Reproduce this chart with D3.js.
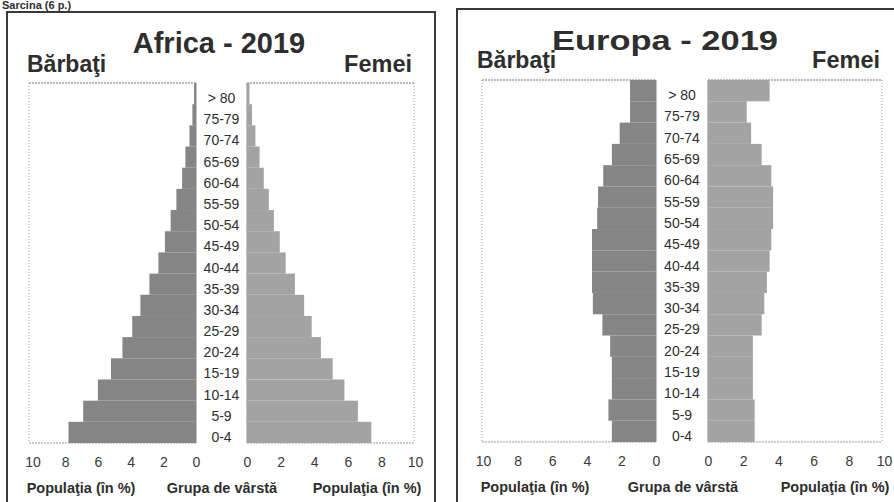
<!DOCTYPE html>
<html>
<head>
<meta charset="utf-8">
<script src="https://cdn.jsdelivr.net/npm/d3@7"></script>
<style>
  html, body { margin: 0; padding: 0; background: #fff; }
  svg { display: block; font-family: "Liberation Sans", Arial, sans-serif; }
</style>
</head>
<body>
<svg id="chart" width="894" height="502"></svg>
<script>
// ---- data ----
const ageGroups = ["0-4","5-9","10-14","15-19","20-24","25-29","30-34","35-39","40-44","45-49","50-54","55-59","60-64","65-69","70-74","75-79","> 80"];
const africaMale   = [7.8, 6.9, 6.0, 5.2, 4.5, 3.9, 3.4, 2.85, 2.3, 1.9, 1.55, 1.2, 0.85, 0.65, 0.4, 0.22, 0.12];
const africaFemale = [7.4, 6.6, 5.8, 5.1, 4.4, 3.85, 3.4, 2.85, 2.3, 1.95, 1.6, 1.3, 1.0, 0.75, 0.5, 0.3, 0.15];
const europeMale   = [2.55, 2.75, 2.55, 2.55, 2.65, 3.1, 3.65, 3.7, 3.7, 3.7, 3.4, 3.35, 3.05, 2.55, 2.1, 1.5, 1.5];
const europeFemale = [2.65, 2.65, 2.55, 2.55, 2.55, 3.05, 3.2, 3.35, 3.5, 3.6, 3.7, 3.7, 3.6, 3.05, 2.45, 2.2, 3.5];
const xTicks = [0, 2, 4, 6, 8, 10];
const panelTitles = ["Africa - 2019", "Europa - 2019"];
const sexLabels = ["Bărbaţi", "Femei"];
const axisTitles = ["Populaţia (în %)", "Grupa de vârstă", "Populaţia (în %)"];
const taskLabel = "Sarcina (6 p.)";

// ---- layout ----
const panels = [
  { title: panelTitles[0], male: africaMale, female: africaFemale,
    frame: {x: 7, y: 12, w: 428, h: 520},
    titleX: 219, titleY: 53, titleSize: 29, titleLen: null,
    sexY: 72, barbX: 27, femX: 412,
    top: 83, bottom: 443,
    m0: 196, m10: 32.5, mEdge: 29,
    f0: 247, f10: 415, fEdge: 414,
    tickY: 443, titleRowY: 493,
    axisTitleX: [81, 222, 367] },
  { title: panelTitles[1], male: europeMale, female: europeFemale,
    frame: {x: 457, y: 9, w: 470, h: 520},
    titleX: 665, titleY: 50, titleSize: 27, titleLen: 226,
    sexY: 68, barbX: 477, femX: 880,
    top: 80, bottom: 442,
    m0: 656, m10: 483, mEdge: 482,
    f0: 708, f10: 884, fEdge: 882,
    tickY: 442, titleRowY: 492,
    axisTitleX: [535, 683, 835] }
];

const maleColor = "#858585";
const femaleColor = "#a3a3a3";
const textColor = "#2e2e2e";

const svg = d3.select("#chart");

// task header (top-left)
svg.append("text").attr("x", 2).attr("y", 9)
  .attr("font-size", 11).attr("font-weight", "bold").attr("fill", textColor)
  .text(taskLabel);

panels.forEach(p => {
  const g = svg.append("g");

  // outer frame
  g.append("rect")
    .attr("x", p.frame.x).attr("y", p.frame.y)
    .attr("width", p.frame.w).attr("height", p.frame.h)
    .attr("fill", "none").attr("stroke", "#3a3a3a").attr("stroke-width", 2);

  // titles
  const t = g.append("text").attr("x", p.titleX).attr("y", p.titleY)
    .attr("text-anchor", "middle").attr("font-size", p.titleSize)
    .attr("font-weight", "bold").attr("fill", textColor).text(p.title);
  if (p.titleLen) t.attr("textLength", p.titleLen).attr("lengthAdjust", "spacingAndGlyphs");

  g.append("text").attr("x", p.barbX).attr("y", p.sexY)
    .attr("font-size", 23).attr("font-weight", "bold").attr("fill", textColor).text(sexLabels[0]);
  g.append("text").attr("x", p.femX).attr("y", p.sexY)
    .attr("text-anchor", "end")
    .attr("font-size", 23.5).attr("font-weight", "bold").attr("fill", textColor).text(sexLabels[1]);

  // scales
  const y = d3.scaleBand().domain(ageGroups.slice().reverse())
    .range([p.top, p.bottom]).paddingInner(0).paddingOuter(0);
  const xm = d3.scaleLinear().domain([0, 10]).range([p.m0, p.m10]);
  const xf = d3.scaleLinear().domain([0, 10]).range([p.f0, p.f10]);

  // plot area borders (dotted)
  const border = (x1, y1, x2, y2, dash, col) => g.append("line")
    .attr("x1", x1).attr("y1", y1).attr("x2", x2).attr("y2", y2)
    .attr("stroke", col).attr("stroke-width", 1.2).attr("stroke-dasharray", dash);
  // male box
  border(p.mEdge, p.top, p.m0, p.top, "2,1", "#777");
  border(p.mEdge, p.top, p.mEdge, p.bottom, "1,2", "#aaa");
  border(p.m0, p.top, p.m0, p.bottom, "none", "#999");
  border(p.mEdge, p.bottom, p.m0, p.bottom, "2,1", "#999");
  // female box
  border(p.f0, p.top, p.fEdge, p.top, "2,1", "#777");
  border(p.fEdge, p.top, p.fEdge, p.bottom, "1,2", "#aaa");
  border(p.f0, p.top, p.f0, p.bottom, "none", "#999");
  border(p.f0, p.bottom, p.fEdge, p.bottom, "2,1", "#999");

  // bars
  g.append("g").selectAll("rect").data(ageGroups)
    .join("rect")
    .attr("x", (d, i) => xm(p.male[i]))
    .attr("y", d => y(d))
    .attr("width", (d, i) => xm(0) - xm(p.male[i]))
    .attr("height", y.bandwidth())
    .attr("fill", maleColor);
  g.append("g").selectAll("rect").data(ageGroups)
    .join("rect")
    .attr("x", xf(0))
    .attr("y", d => y(d))
    .attr("width", (d, i) => xf(p.female[i]) - xf(0))
    .attr("height", y.bandwidth())
    .attr("fill", femaleColor);

  // age group labels
  const cx = (p.m0 + p.f0) / 2;
  g.append("g").selectAll("text").data(ageGroups)
    .join("text")
    .attr("x", cx)
    .attr("y", d => y(d) + y.bandwidth() / 2 + 4.5)
    .attr("dy", "0.36em")
    .attr("text-anchor", "middle")
    .attr("font-size", 14).attr("fill", textColor)
    .text(d => d);

  // x axes
  const styleAxis = sel => {
    sel.select(".domain").remove();
    sel.selectAll("text").attr("font-size", 14).attr("fill", "#3a3a3a")
      .attr("font-family", "Liberation Sans, Arial, sans-serif");
  };
  g.append("g").attr("transform", `translate(0,${p.tickY})`)
    .call(d3.axisBottom(xm).tickValues(xTicks).tickSize(0).tickPadding(14).tickFormat(d3.format("d")))
    .call(styleAxis);
  g.append("g").attr("transform", `translate(0,${p.tickY})`)
    .call(d3.axisBottom(xf).tickValues(xTicks).tickSize(0).tickPadding(14).tickFormat(d3.format("d")))
    .call(styleAxis);

  // axis titles
  axisTitles.forEach((txt, i) => {
    g.append("text").attr("x", p.axisTitleX[i]).attr("y", p.titleRowY)
      .attr("text-anchor", "middle").attr("font-size", 14.5)
      .attr("font-weight", "bold").attr("fill", textColor).text(txt);
  });
});
</script>
</body>
</html>
